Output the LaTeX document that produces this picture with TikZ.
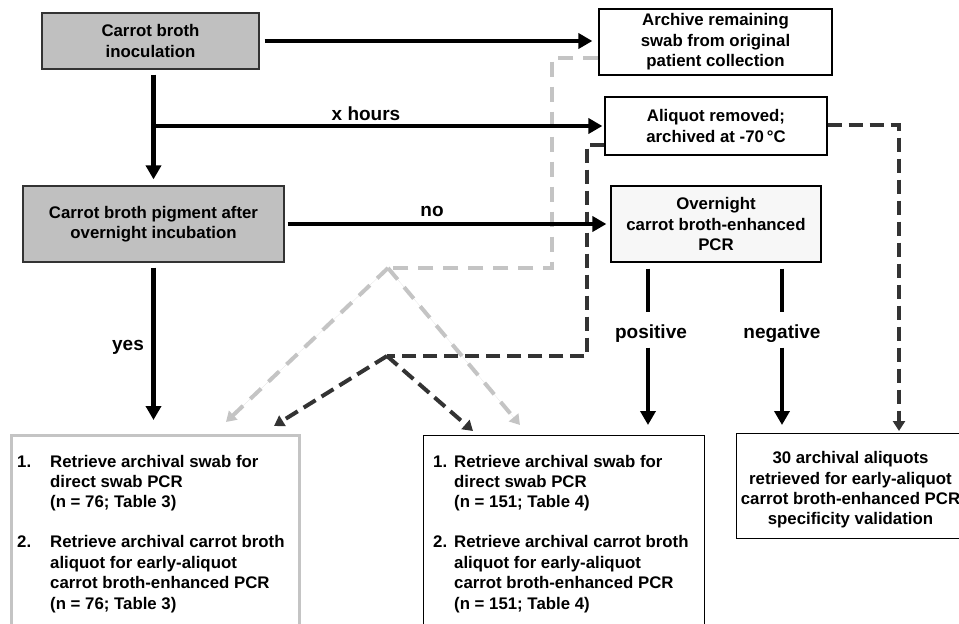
\documentclass[tikz,border=0pt]{standalone}
\usepackage{fontspec}
\setmainfont{Liberation Sans}
\usetikzlibrary{arrows.meta,calc}
\definecolor{boxgray}{HTML}{C0C0C0}
\definecolor{lgray}{HTML}{C4C4C4}
\definecolor{dgray}{HTML}{333333}
\definecolor{efill}{HTML}{F7F7F7}
\begin{document}
\begin{tikzpicture}[x=1pt,y=-1pt,
 every node/.style={font=\bfseries\fontsize{16.8}{20.4}\selectfont},
 box/.style={draw=black, line width=1.2pt, inner sep=0pt, align=center},
 graybox/.style={box, draw=dgray, fill=boxgray},
 lbl/.style={font=\bfseries\fontsize{19}{22}\selectfont, inner sep=0pt, anchor=base},
 solidarrow/.style={line width=4.5pt, -{Triangle[length=14pt,width=15pt]}},
 solidline/.style={line width=4.5pt},
 lightdash/.style={draw=lgray, line width=4pt, dash pattern=on 15pt off 10pt},
 darkdash/.style={draw=dgray, line width=4pt, dash pattern=on 14pt off 7pt},
 dtip/.style={-{Triangle[length=10pt,width=12pt]}},
]
\useasboundingbox (0,0) rectangle (959,624);
\clip (0,0) rectangle (959,624);

% boxes
\node[graybox, minimum width=217pt, minimum height=56pt] (A) at (150.5,41) {Carrot broth\\inoculation};
\node[box, minimum width=233pt, minimum height=66pt] (B) at (715.5,42) {Archive remaining\\swab from original\\patient collection};
\node[box, minimum width=222pt, minimum height=58pt] (D) at (716,126) {Aliquot removed;\\archived at -70\,°C};
\node[graybox, minimum width=261pt, minimum height=76pt] (C) at (153.5,224) {Carrot broth pigment after\\overnight incubation};
\node[box, fill=efill, minimum width=210pt, minimum height=76pt] (E) at (716,224) {Overnight\\carrot broth-enhanced\\PCR};
\node[box, draw=lgray, line width=3pt, anchor=north west, minimum width=288pt, minimum height=220pt] (F) at (10,434) {};
\node[box, anchor=north west, minimum width=281pt, minimum height=220pt] (G) at (423,435) {};
\node[box, anchor=north west, minimum width=245pt, minimum height=105pt] (H) at (736,433) {};

% box texts
\node[anchor=north west, inner sep=0pt, align=left] (Ft) at (17,452.7) {\begin{tabular}{@{}p{33pt}@{}l@{}}1. & Retrieve archival swab for\\ & direct swab PCR\\ & (n = 76; Table 3)\\[19.6pt] 2. & Retrieve archival carrot broth\\ & aliquot for early-aliquot\\ & carrot broth-enhanced PCR\\ & (n = 76; Table 3)\end{tabular}};
\node[anchor=north west, inner sep=0pt, align=left] (Gt) at (433,452.7) {\begin{tabular}{@{}p{21pt}@{}l@{}}1. & Retrieve archival swab for\\ & direct swab PCR\\ & (n = 151; Table 4)\\[19.6pt] 2. & Retrieve archival carrot broth\\ & aliquot for early-aliquot\\ & carrot broth-enhanced PCR\\ & (n = 151; Table 4)\end{tabular}};
\node[inner sep=0pt, align=center] (Ht) at (850.5,490) {30 archival aliquots\\retrieved for early-aliquot\\carrot broth-enhanced PCR\\specificity validation};

% labels
\node[lbl] (xh) at (366,120) {x hours};
\node[lbl] (no) at (432,216) {no};
\node[lbl] (yes) at (128,350) {yes};
\node[lbl] (pos) at (651,338) {positive};
\node[lbl] (neg) at (782,338) {negative};

% coordinates
\coordinate (lg1) at (552,58);
\coordinate (lg2) at (552,268);
\coordinate (lgA) at (388,268);
\coordinate (lgL) at (226,422);
\coordinate (lgR) at (520,425);
\coordinate (dk1) at (587,145);
\coordinate (dk2) at (587,356);
\coordinate (dkA) at (387,356);
\coordinate (dkL) at (274,426);
\coordinate (dkR) at (473,431);
\coordinate (dr1) at (899,125);
\coordinate (pc) at (648,338);

% light gray dashed
\draw[lightdash] (lg1 -| B.west) -- (lg1) -- (lg2) -- (lgA);
\draw[lightdash, dtip, fill=lgray] (lgA) -- (lgL);
\draw[lightdash, dtip, fill=lgray] (lgA) -- (lgR);

% dark dashed
\draw[darkdash] (dk1 -| D.west) -- (dk1) -- (dk2) -- (dkA);
\draw[darkdash, dtip] (dkA) -- (dkL);
\draw[darkdash, dtip] (dkA) -- (dkR);
\draw[darkdash, dtip, shorten >=2pt] (dr1 -| D.east) -- (dr1) -- (dr1 |- H.north);

% solid arrows
\coordinate (xj) at (C.north |- D.west);
\draw[solidarrow, shorten <=5pt, shorten >=6pt] (A.east) -- (A.east -| B.west);
\draw[solidarrow, shorten <=5pt, shorten >=6pt] (C.north |- A.south) -- (C.north);
\draw[solidarrow, shorten >=2pt] (xj) -- (D.west);
\draw[solidarrow, shorten <=3pt, shorten >=4pt] (C.east) -- (E.west);
\draw[solidarrow, shorten <=5pt, shorten >=14pt] (C.south) -- (C.south |- F.north);
\draw[solidline, shorten <=6pt, shorten >=12pt] (E.south -| pc) -- (pc |- pos.north);
\draw[solidarrow, shorten <=5.5pt, shorten >=10pt] (pc |- pos.south) -- (pc |- G.north);
\draw[solidline, shorten <=6pt, shorten >=12pt] (E.south -| neg) -- (neg.north);
\draw[solidarrow, shorten <=5.5pt, shorten >=8pt] (neg.south) -- (neg |- H.north);
\end{tikzpicture}
\end{document}
